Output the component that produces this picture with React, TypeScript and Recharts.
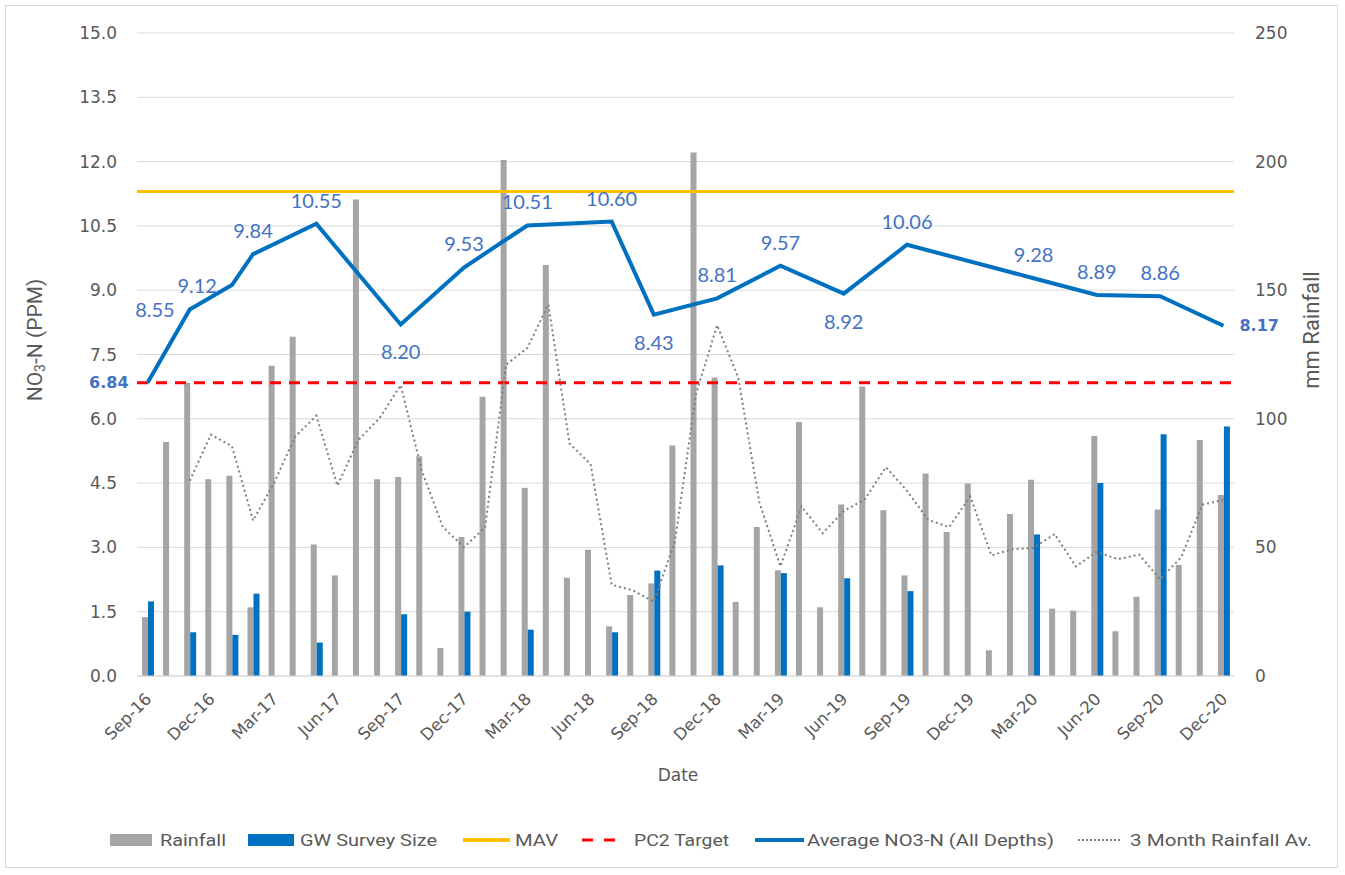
import React from 'react';
import {
  ComposedChart,
  Bar,
  Line,
  XAxis,
  YAxis,
  CartesianGrid,
  ReferenceLine,
} from 'recharts';

// ---------- DATA ----------
const months = [
  'Sep-16', 'Oct-16', 'Nov-16', 'Dec-16',
  'Jan-17', 'Feb-17', 'Mar-17', 'Apr-17', 'May-17', 'Jun-17', 'Jul-17', 'Aug-17', 'Sep-17', 'Oct-17', 'Nov-17', 'Dec-17',
  'Jan-18', 'Feb-18', 'Mar-18', 'Apr-18', 'May-18', 'Jun-18', 'Jul-18', 'Aug-18', 'Sep-18', 'Oct-18', 'Nov-18', 'Dec-18',
  'Jan-19', 'Feb-19', 'Mar-19', 'Apr-19', 'May-19', 'Jun-19', 'Jul-19', 'Aug-19', 'Sep-19', 'Oct-19', 'Nov-19', 'Dec-19',
  'Jan-20', 'Feb-20', 'Mar-20', 'Apr-20', 'May-20', 'Jun-20', 'Jul-20', 'Aug-20', 'Sep-20', 'Oct-20', 'Nov-20', 'Dec-20',
];

// monthly rainfall, mm (right axis)
const rainfall = [
  22.9, 91.0, 113.9, 76.5, 77.9, 26.7, 120.6, 131.9, 51.1, 39.1,
  185.3, 76.5, 77.4, 85.4, 10.9, 54.0, 108.6, 200.6, 73.2, 159.8,
  38.2, 49.1, 19.3, 31.5, 36.0, 89.6, 203.5, 116.1, 28.8, 57.9,
  41.1, 98.8, 26.7, 66.7, 112.6, 64.4, 39.1, 78.7, 56.0, 74.8,
  10.0, 63.0, 76.3, 26.2, 25.4, 93.3, 17.4, 30.8, 64.7, 43.2,
  91.8, 70.4,
];

// groundwater survey size (right axis)
const surveySize = [
  29, null, 17, null, 16, 32, null, null, 13, null,
  null, null, 24, null, null, 25, null, null, 18, null,
  null, null, 17, null, 41, null, null, 43, null, null,
  40, null, null, 38, null, null, 33, null, null, null,
  null, null, 55, null, null, 75, null, null, 94, null,
  null, 97,
];

// average NO3-N, ppm (left axis)
const avgNitrate = [
  6.84, null, 8.55, null, 9.12, 9.84, null, null, 10.55, null,
  null, null, 8.20, null, null, 9.53, null, null, 10.51, null,
  null, null, 10.60, null, 8.43, null, null, 8.81, null, null,
  9.57, null, null, 8.92, null, null, 10.06, null, null, null,
  null, null, 9.28, null, null, 8.89, null, null, 8.86, null,
  null, 8.17,
];

// 3 month rainfall average, mm (right axis)
const rainfall3MonthAv = [
  null, null, 75.9, 93.8, 89.4, 60.4, 75.1, 93.1, 101.2, 74.0,
  91.8, 100.3, 113.1, 79.8, 57.9, 50.1, 57.8, 121.1, 127.5, 144.5,
  90.4, 82.4, 35.5, 33.3, 28.9, 52.4, 109.7, 136.4, 116.1, 67.6,
  42.6, 65.9, 55.5, 64.1, 68.7, 81.2, 72.0, 60.7, 57.9, 69.8,
  46.9, 49.3, 49.8, 55.2, 42.6, 48.3, 45.4, 47.2, 37.6, 46.2,
  66.6, 68.5,
];

const MAV = 11.3;
const PC2_TARGET = 6.84;

const leftTicks = [0, 1.5, 3, 4.5, 6, 7.5, 9, 10.5, 12, 13.5, 15];
const rightTicks = [0, 50, 100, 150, 200, 250];

const rows = months.map((m, i) => ({
  month: m,
  rainfall: rainfall[i],
  survey: surveySize[i],
  nitrate: avgNitrate[i],
  rain3: rainfall3MonthAv[i],
}));

// ---------- STYLE ----------
const AXIS_GREY = '#595959';
const labelPlacement: Record<number, string> = {
  0: 'left', 2: 'left', 4: 'left', 5: 'top', 8: 'top', 12: 'bottom', 15: 'top',
  18: 'top', 22: 'top', 24: 'bottom', 27: 'top', 30: 'top', 33: 'bottom',
  36: 'top', 42: 'top', 45: 'top', 48: 'top', 51: 'right',
};

const XTick = (props: any) => {
  const { x, y, payload } = props;
  const px = x + 5;
  const py = y + 22;
  return (
    <text
      x={px}
      y={py}
      textAnchor="end"
      transform={`rotate(-45 ${px} ${py})`}
      fontFamily="DejaVu Sans"
      fontSize={16.5}
      fill={AXIS_GREY}
    >
      {payload.value}
    </text>
  );
};

const NitrateLabel = (props: any) => {
  const { x, y, value, index } = props;
  if (value == null || x == null || y == null) return null;
  const place = labelPlacement[index] ?? 'top';
  const bold = index === 0 || index === 51;
  let tx = x;
  let ty = y;
  let anchor: any = 'middle';
  if (place === 'left') {
    tx = x - (index === 0 ? 19 : 15);
    anchor = 'end';
  } else if (place === 'right') {
    tx = x + 16;
    anchor = 'start';
  } else if (place === 'top') {
    ty = y - 24;
  } else {
    ty = y + 27;
  }
  return (
    <text
      x={tx}
      y={ty}
      textAnchor={anchor}
      dominantBaseline="central"
      fill="#4472C4"
      fontFamily={bold ? 'DejaVu Sans' : 'Lato'}
      fontWeight={bold ? 700 : 400}
      fontSize={bold ? 16 : 20}
    >
      {Number(value).toFixed(2)}
    </text>
  );
};

const legendItems = [
  { kind: 'rect', color: '#A5A5A5', keyX: 110, keyW: 42, textX: 160, textW: 66, label: 'Rainfall' },
  { kind: 'rect', color: '#0070C0', keyX: 248, keyW: 46, textX: 300, textW: 137, label: 'GW Survey Size' },
  { kind: 'line', color: '#FFC000', keyX: 463, keyW: 47, textX: 515, textW: 43, label: 'MAV' },
  { kind: 'dash', color: '#FF0000', keyX: 582, keyW: 36, textX: 634, textW: 95, label: 'PC2 Target' },
  { kind: 'line', color: '#0070C0', keyX: 755, keyW: 49, textX: 807, textW: 247, label: 'Average NO3-N (All Depths)' },
  { kind: 'dot', color: '#808080', keyX: 1078, keyW: 44, textX: 1130, textW: 182, label: '3 Month Rainfall Av.' },
];

const LEGEND_Y = 840;

export default function App() {
  return (
    <div style={{ position: 'absolute', left: 0, top: 0, width: 1345, height: 875, background: '#fff' }}>
      <div
        style={{
          position: 'absolute',
          left: 5,
          top: 5,
          width: 1333,
          height: 863,
          border: '1px solid #D9D9D9',
          boxSizing: 'border-box',
        }}
      />
      <ComposedChart
        width={1345}
        height={875}
        data={rows}
        margin={{ top: 33, right: 31, bottom: 99, left: 37 }}
        barGap={0}
        style={{ position: 'absolute', left: 0, top: 0 }}
      >
        <CartesianGrid yAxisId="left" vertical={false} stroke="#D9D9D9" strokeWidth={1} />
        <XAxis
          dataKey="month"
          interval={2}
          tickLine={false}
          tickSize={0}
          axisLine={{ stroke: '#D9D9D9' }}
          height={100}
          tick={<XTick />}
          label={(p: any) => (
            <text x={678} y={781} textAnchor="middle" fontFamily="DejaVu Sans" fontSize={17} fill={AXIS_GREY}>
              Date
            </text>
          )}
        />
        <YAxis
          yAxisId="left"
          domain={[0, 15]}
          ticks={leftTicks}
          width={100}
          axisLine={false}
          tickLine={false}
          tickSize={0}
          tickMargin={20}
          tickFormatter={(v: number) => v.toFixed(1)}
          tick={{ fontFamily: 'DejaVu Sans', fontSize: 17, fill: AXIS_GREY }}
          label={(p: any) => (
            <text
              x={35}
              y={340}
              textAnchor="middle"
              transform="rotate(-90 35 340)"
              fontFamily="Roboto"
              fontSize={21}
              fill={AXIS_GREY}
              dominantBaseline="central"
            >
              NO<tspan fontSize={14} dy={5}>3</tspan>
              <tspan dy={-5}>-N (PPM)</tspan>
            </text>
          )}
        />
        <YAxis
          yAxisId="right"
          orientation="right"
          domain={[0, 250]}
          ticks={rightTicks}
          width={80}
          axisLine={false}
          tickLine={false}
          tickSize={0}
          tickMargin={21}
          tick={{ fontFamily: 'DejaVu Sans', fontSize: 17, fill: AXIS_GREY, textAnchor: 'start' }}
          label={(p: any) => (
            <text
              x={1311}
              y={330}
              textAnchor="middle"
              transform="rotate(-90 1311 330)"
              fontFamily="Roboto"
              fontSize={22}
              fill={AXIS_GREY}
              dominantBaseline="central"
            >
              mm Rainfall
            </text>
          )}
        />
        <Bar yAxisId="right" dataKey="rainfall" fill="#A5A5A5" barSize={6} isAnimationActive={false} />
        <Bar yAxisId="right" dataKey="survey" fill="#0070C0" barSize={6} isAnimationActive={false} />
        <ReferenceLine yAxisId="left" y={MAV} stroke="#FFC000" strokeWidth={3} />
        <ReferenceLine yAxisId="left" y={PC2_TARGET} stroke="#FF0000" strokeWidth={3} strokeDasharray="11 8" />
        <Line
          yAxisId="right"
          dataKey="rain3"
          stroke="#7F7F7F"
          strokeWidth={2}
          strokeDasharray="2 3"
          dot={false}
          activeDot={false}
          isAnimationActive={false}
        />
        <Line
          yAxisId="left"
          dataKey="nitrate"
          stroke="#0070C0"
          strokeWidth={4}
          connectNulls
          dot={false}
          activeDot={false}
          isAnimationActive={false}
          label={(p: any) => <NitrateLabel {...p} />}
        />
      </ComposedChart>
      <svg
        width={1345}
        height={875}
        style={{ position: 'absolute', left: 0, top: 0, pointerEvents: 'none' }}
      >
        {legendItems.map((it) => (
          <g key={it.label}>
            {it.kind === 'rect' && (
              <rect x={it.keyX} y={LEGEND_Y - 6} width={it.keyW} height={12} fill={it.color} />
            )}
            {it.kind === 'line' && (
              <line x1={it.keyX} x2={it.keyX + it.keyW} y1={LEGEND_Y} y2={LEGEND_Y} stroke={it.color} strokeWidth={4} />
            )}
            {it.kind === 'dash' && (
              <line
                x1={it.keyX}
                x2={it.keyX + it.keyW}
                y1={LEGEND_Y}
                y2={LEGEND_Y}
                stroke={it.color}
                strokeWidth={3}
                strokeDasharray="11 11"
              />
            )}
            {it.kind === 'dot' && (
              <line
                x1={it.keyX}
                x2={it.keyX + it.keyW}
                y1={LEGEND_Y}
                y2={LEGEND_Y}
                stroke={it.color}
                strokeWidth={2}
                strokeDasharray="2 2"
              />
            )}
            <text
              x={it.textX}
              y={LEGEND_Y}
              dominantBaseline="central"
              fontFamily="Roboto"
              fontSize={17}
              fill={AXIS_GREY}
              textLength={it.textW}
              lengthAdjust="spacingAndGlyphs"
            >
              {it.label}
            </text>
          </g>
        ))}
      </svg>
    </div>
  );
}
